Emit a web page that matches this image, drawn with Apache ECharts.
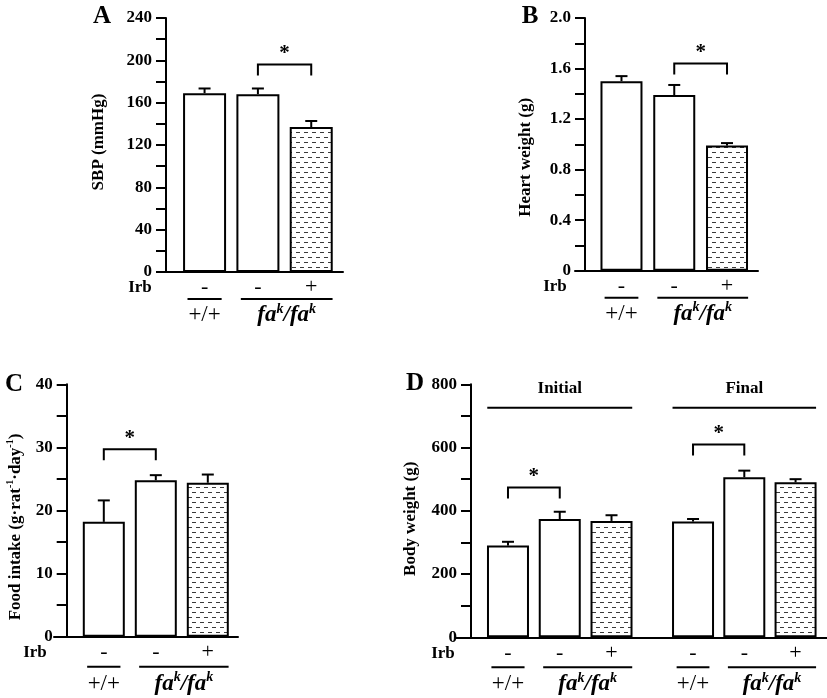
<!DOCTYPE html>
<html><head><meta charset="utf-8">
<script src="https://cdn.jsdelivr.net/npm/echarts@6/dist/echarts.min.js"></script>
<style>html,body{margin:0;padding:0;background:#fff}#c{width:827px;height:698px}</style>
</head><body><div id="c"></div>
<script>
// ---------------- data ----------------
const irbSigns = ['-', '-', '+'];
const genotypeLabels = ['+/+', 'fa^k/fa^k'];
const genotypeStart = [0, 1];
const genotypeEnd = [0, 2];

const sbpMean = [169, 168, 137];
const sbpSem = [4.4, 5.4, 5.7];
const sbpTicks = ['0', '40', '80', '120', '160', '200', '240'];
const sbpSig = [[1, 2, 196]];

const heartMean = [1.50, 1.39, 0.99];
const heartSem = [0.04, 0.08, 0.02];
const heartTicks = ['0', '0.4', '0.8', '1.2', '1.6', '2.0'];
const heartSig = [[1, 2, 1.64]];

const foodMean = [18.2, 24.8, 24.4];
const foodSem = [3.4, 0.8, 1.3];
const foodTicks = ['0', '10', '20', '30', '40'];
const foodSig = [[0, 1, 29.7]];

const bwInitialMean = [290, 374, 368];
const bwInitialSem = [12, 23, 18];
const bwInitialSig = [[0, 1, 474]];
const bwFinalMean = [366, 506, 490];
const bwFinalSem = [8, 21, 10];
const bwFinalSig = [[0, 1, 610]];
const bwTicks = ['0', '200', '400', '600', '800'];
const bwPhases = ['Initial', 'Final'];
const bwPhaseLevel = 726;

// ---------------- styling helpers ----------------
const FONT = "'Liberation Serif','Times New Roman',serif";
const pc = document.createElement('canvas');
pc.width = 8; pc.height = 10;
const pg = pc.getContext('2d');
pg.fillStyle = '#fff'; pg.fillRect(0, 0, 8, 10);
pg.fillStyle = '#3a3a3a';
pg.fillRect(0, 2, 4, 1);
pg.fillRect(4, 7, 4, 1);
const pattern = { image: pc, repeat: 'repeat' };

const grid = [], xAxis = [], yAxis = [], series = [];

function errRender(params, api) {
  const x = api.value(0), m = api.value(1), s = api.value(2);
  const base = api.coord([x, m]);
  const top = api.coord([x, m + s]);
  const st = { stroke: '#000', lineWidth: 2 };
  return { type: 'group', children: [
    { type: 'line', shape: { x1: base[0], y1: base[1], x2: top[0], y2: top[1] }, style: st },
    { type: 'line', shape: { x1: top[0] - 6, y1: top[1], x2: top[0] + 6, y2: top[1] }, style: st }
  ]};
}
function sigRender(params, api) {
  const a = api.coord([api.value(0), api.value(2)]);
  const b = api.coord([api.value(1), api.value(2)]);
  const st = { stroke: '#000', lineWidth: 2, fill: null };
  return { type: 'group', children: [
    { type: 'polyline', shape: { points: [[a[0], a[1] + 11], [a[0], a[1]], [b[0], b[1]], [b[0], b[1] + 11]] }, style: st },
    { type: 'text', x: (a[0] + b[0]) / 2, y: a[1] - 11, style: { text: '*', fill: '#000', fontSize: 21, fontWeight: 'bold', fontFamily: FONT, align: 'center', verticalAlign: 'middle' } }
  ]};
}
function richLabel(label) {
  if (label.indexOf('^') < 0) return label;
  return label.split(/(\^\w)/).filter(t => t).map(t => t[0] === '^' ? '{s|' + t.slice(1) + '}' : '{i|' + t + '}').join('');
}
function groupRender(lineOff, textOff) {
  return function (params, api) {
    const i = params.dataIndex;
    const band = api.size([1, 0])[0];
    const s = api.value(0), e = api.value(1);
    const y0 = api.coord([0, 0])[1];
    const x1 = api.coord([s, 0])[0] - 0.32 * band;
    const x2 = api.coord([e, 0])[0] + (s === e ? 0.32 : 0.4) * band;
    const lab = genotypeLabels[i];
    return { type: 'group', children: [
      { type: 'line', shape: { x1: x1, y1: y0 + lineOff, x2: x2, y2: y0 + lineOff }, style: { stroke: '#000', lineWidth: 2 } },
      { type: 'text', x: (x1 + x2) / 2, y: y0 + textOff, style: {
        text: richLabel(lab), fill: '#000', fontSize: 23, fontFamily: FONT, align: 'center', verticalAlign: 'middle',
        lineHeight: 26,
        rich: {
          i: { fontSize: 23, fontStyle: 'italic', fontWeight: 'bold', fontFamily: FONT, lineHeight: 26 },
          s: { fontSize: 14, fontStyle: 'italic', fontWeight: 'bold', fontFamily: FONT, lineHeight: 14, verticalAlign: 'top' }
        } } }
    ]};
  };
}
function phaseRender(label) {
  return function (params, api) {
    const band = api.size([1, 0])[0];
    const a = api.coord([api.value(0), api.value(2)]);
    const b = api.coord([api.value(1), api.value(2)]);
    const x1 = a[0] - 0.4 * band, x2 = b[0] + 0.4 * band;
    return { type: 'group', children: [
      { type: 'line', shape: { x1: x1, y1: a[1], x2: x2, y2: a[1] }, style: { stroke: '#000', lineWidth: 2 } },
      { type: 'text', x: (x1 + x2) / 2, y: a[1] - 19, style: { text: label, fill: '#000', fontSize: 17, fontWeight: 'bold', fontFamily: FONT, align: 'center', verticalAlign: 'middle' } }
    ]};
  };
}

function addPanel(f) {
  const gi = grid.length;
  grid.push({ left: f.left, top: f.top, width: f.width, height: f.height });
  xAxis.push({ gridIndex: gi, type: 'value', min: 0, max: 1,
    axisLine: { show: true, onZero: false, lineStyle: { color: '#000', width: 2 } },
    axisTick: { show: false }, axisLabel: { show: false }, splitLine: { show: false } });
  yAxis.push({ gridIndex: gi, type: 'value', min: 0, max: f.max, interval: f.interval, offset: -f.offset,
    axisLine: { show: true, onZero: false, lineStyle: { color: '#000', width: 2 } },
    axisTick: { show: true, length: 10, lineStyle: { color: '#000', width: 2 } },
    minorTick: { show: true, splitNumber: 2, length: 10, lineStyle: { color: '#000', width: 2 } },
    splitLine: { show: false }, minorSplitLine: { show: false },
    axisLabel: { margin: 14, color: '#000', fontFamily: FONT, fontWeight: 'bold', fontSize: 17,
      formatter: v => f.ticks[Math.round(v / f.interval)] },
    name: f.name, nameLocation: 'middle', nameGap: f.nameGap,
    nameTextStyle: { color: '#000', fontFamily: FONT, fontWeight: 'bold', fontSize: 17, padding: f.namePad, lineHeight: 20,
      rich: { s: { fontSize: 10, fontWeight: 'bold', fontFamily: FONT, verticalAlign: 'top', lineHeight: 11 } } }
  });
  f.bars.forEach(b => {
    const g = grid.length;
    grid.push({ left: b.left, top: f.top, width: b.width, height: f.height });
    xAxis.push({ gridIndex: g, type: 'category', data: irbSigns,
      axisLine: { show: false }, axisTick: { show: false }, splitLine: { show: false },
      axisLabel: { interval: 0, margin: f.signMargin, color: '#000', fontFamily: FONT, fontSize: 22 } });
    yAxis.push({ gridIndex: g, type: 'value', min: 0, max: f.max, show: false });
    const xi = xAxis.length - 1, yi = yAxis.length - 1;
    series.push({ type: 'bar', xAxisIndex: xi, yAxisIndex: yi, barWidth: b.barWidth,
      itemStyle: { borderColor: '#000', borderWidth: 2 },
      data: b.mean.map((v, i) => ({ value: v, itemStyle: { color: irbSigns[i] === '+' ? pattern : '#fff' } })) });
    series.push({ type: 'custom', xAxisIndex: xi, yAxisIndex: yi, z: 3, renderItem: errRender,
      data: b.mean.map((v, i) => [i, v, b.sem[i]]) });
    series.push({ type: 'custom', xAxisIndex: xi, yAxisIndex: yi, z: 3, renderItem: sigRender, data: b.sig });
    series.push({ type: 'custom', xAxisIndex: xi, yAxisIndex: yi, z: 3, renderItem: groupRender(f.lineOff, f.textOff),
      data: genotypeStart.map((s, i) => [s, genotypeEnd[i]]) });
    if (b.phase) {
      series.push({ type: 'custom', xAxisIndex: xi, yAxisIndex: yi, z: 3, renderItem: phaseRender(b.phase),
        data: [[0, irbSigns.length - 1, bwPhaseLevel]] });
    }
  });
}

addPanel({ left: 158, top: 18, width: 185, height: 254, offset: 8, max: 240, interval: 40, ticks: sbpTicks,
  name: 'SBP (mmHg)', nameGap: 57, namePad: [0, 0, 0, 6], signMargin: 4, lineOff: 27, textOff: 43,
  bars: [{ left: 177.9, width: 160, barWidth: 43, mean: sbpMean, sem: sbpSem, sig: sbpSig }] });
addPanel({ left: 575, top: 18, width: 183, height: 252.7, offset: 10, max: 2.0, interval: 0.4, ticks: heartTicks,
  name: 'Heart weight (g)', nameGap: 49, namePad: [0, 26, 0, 0], signMargin: 5, lineOff: 27, textOff: 43,
  bars: [{ left: 595.1, width: 158.3, barWidth: 42, mean: heartMean, sem: heartSem, sig: heartSig }] });
addPanel({ left: 54, top: 384.3, width: 184, height: 252.4, offset: 12.7, max: 40, interval: 10, ticks: foodTicks,
  name: 'Food intake (g·rat{s|-1}·day{s|-1})', nameGap: 41, namePad: [0, 33, 0, 0], signMargin: 5, lineOff: 30, textOff: 47,
  bars: [{ left: 77.8, width: 156, barWidth: 42, mean: foodMean, sem: foodSem, sig: foodSig }] });
addPanel({ left: 455, top: 384.3, width: 372, height: 253, offset: 16, max: 800, interval: 200, ticks: bwTicks,
  name: 'Body weight (g)', nameGap: 50, namePad: [0, 16, 0, 0], signMargin: 5, lineOff: 30, textOff: 47,
  bars: [
    { left: 482.1, width: 155.3, barWidth: 42, mean: bwInitialMean, sem: bwInitialSem, sig: bwInitialSig, phase: bwPhases[0] },
    { left: 667.4, width: 153.8, barWidth: 42, mean: bwFinalMean, sem: bwFinalSem, sig: bwFinalSig, phase: bwPhases[1] }
  ] });

const letterStyle = (t) => ({ text: t, fill: '#000', fontSize: 25, fontWeight: 'bold', fontFamily: FONT, align: 'center', verticalAlign: 'middle' });
const irbStyle = { text: 'Irb', fill: '#000', fontSize: 17, fontWeight: 'bold', fontFamily: FONT, align: 'center', verticalAlign: 'middle' };
const graphic = [
  { type: 'text', x: 102, y: 17, style: letterStyle('A') },
  { type: 'text', x: 530, y: 17, style: letterStyle('B') },
  { type: 'text', x: 14, y: 385, style: letterStyle('C') },
  { type: 'text', x: 415, y: 384, style: letterStyle('D') },
  { type: 'text', x: 140, y: 288, style: irbStyle },
  { type: 'text', x: 555, y: 287, style: irbStyle },
  { type: 'text', x: 35, y: 653, style: irbStyle },
  { type: 'text', x: 443, y: 654, style: irbStyle }
];

const chart = echarts.init(document.getElementById('c'), null, { renderer: 'canvas' });
chart.setOption({ animation: false, backgroundColor: '#fff', grid, xAxis, yAxis, series, graphic });
</script>
</body></html>
